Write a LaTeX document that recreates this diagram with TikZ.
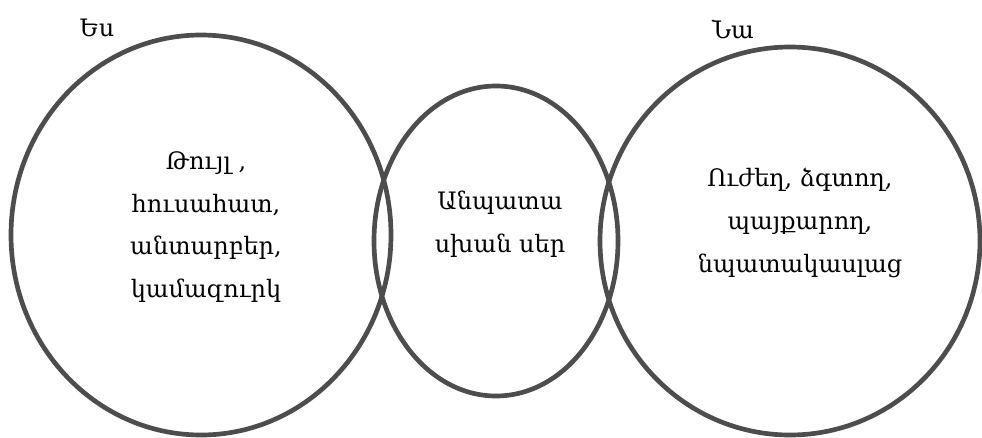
\documentclass[tikz,border=0pt]{standalone}
\usepackage{fontspec}
\setmainfont{DejaVu Serif}
\usetikzlibrary{shapes.geometric,positioning}
\definecolor{kantgraa}{RGB}{77,77,77}
\tikzset{
	%Define style for the three sets
	sirkel/.style={
		ellipse,
		draw=kantgraa, line width=3.5pt,
		inner sep=0pt},
	%Define style for the text inside a set
	tekst/.style={
		align=center,
		inner sep=0pt,
		font=\fontsize{18}{32}\selectfont},
	% Define style for the names above the sets
	navn/.style={
		inner sep=0pt,
		font=\fontsize{18}{22}\selectfont}
}

\begin{document}
\begin{tikzpicture}[x=0.75pt, y=-0.75pt]
	
	\useasboundingbox (0,0) rectangle (982,437);  % page size of the reference
	
	\node[sirkel, minimum width=285pt, minimum height=300pt] (jeg) at (201,235) {};
	\node[sirkel, minimum width=183pt, minimum height=232.5pt] (midt) at (496,241) {};
	\node[sirkel, minimum width=285pt, minimum height=291pt] (hun) at (790,241) {};
	
	\node[tekst] (tjeg) at (206,227) {Թույլ ,\\ հուսահատ,\\ անտարբեր,\\ կամազուրկ};
	\node[tekst] (tmidt) at (500,224) {Անպատա\\ սխան սեր};
	\node[tekst] (thun) at (800,223) {Ուժեղ, ձգտող,\\ պայքարող,\\ նպատակասլաց};
	
	\node[navn] (njeg) at (97,28) {Ես};
	\node[navn] (nhun) at (733,29) {Նա};
	
\end{tikzpicture}
\end{document}
